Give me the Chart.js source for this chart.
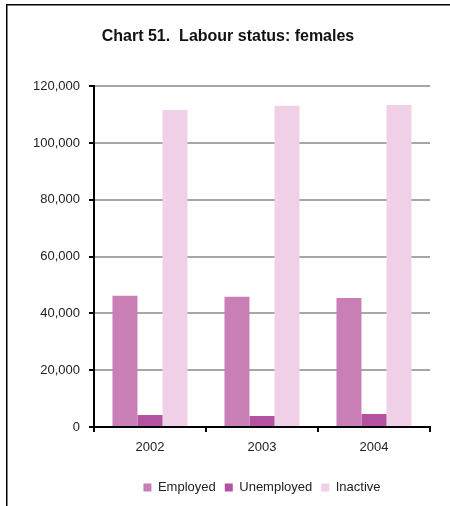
<!DOCTYPE html>
<html>
<head>
<meta charset="utf-8">
<script src="https://cdn.jsdelivr.net/npm/chart.js@4.4.1/dist/chart.umd.min.js"></script>
<style>
  html, body { margin: 0; padding: 0; background: #fff; }
  #wrap { width: 450px; height: 506px; }
</style>
</head>
<body>
<div id="wrap"><canvas id="myChart" width="450" height="506"></canvas></div>
<script>
// Chart data
const years = ['2002', '2003', '2004'];
const employed = [46200, 45900, 45400];
const unemployed = [4200, 3900, 4600];
const inactive = [111600, 113100, 113400];
const yTicks = [0, 20000, 40000, 60000, 80000, 100000, 120000];

const FONT = "'Liberation Sans', Arial, Helvetica, sans-serif";

// Page frame (top and left edges only, the rest is cut off)
const framePlugin = {
    id: 'frame',
    afterDraw(chart) {
        const c = chart.ctx;
        c.save();
        c.fillStyle = '#000';
        c.fillRect(6, 4, 444, 1.5);
        c.fillRect(6, 4, 1.5, 502);
        c.restore();
    }
};

const ctx = document.getElementById('myChart').getContext('2d');
new Chart(ctx, {
    type: 'bar',
    data: {
        labels: years,
        datasets: [
            { label: 'Employed', data: employed, backgroundColor: '#c97fb6' },
            { label: 'Unemployed', data: unemployed, backgroundColor: '#b451a0' },
            { label: 'Inactive', data: inactive, backgroundColor: '#f0d0e6' }
        ]
    },
    options: {
        responsive: false,
        animation: false,
        layout: { padding: { left: 26, right: 20, top: 0, bottom: 2 } },
        datasets: {
            bar: { categoryPercentage: 0.67, barPercentage: 1.0 }
        },
        plugins: {
            title: {
                display: true,
                text: 'Chart 51.  Labour status: females',
                color: '#111',
                font: { family: FONT, size: 16, weight: 'bold' },
                padding: { top: 27, bottom: 40 }
            },
            legend: {
                position: 'bottom',
                fullSize: false,
                labels: {
                    boxWidth: 8,
                    boxHeight: 8,
                    padding: 9,
                    color: '#222',
                    font: { family: FONT, size: 13 }
                }
            },
            tooltip: { enabled: false }
        },
        scales: {
            x: {
                afterFit(scale) { scale.height = 45; },
                border: { color: '#000', width: 2 },
                grid: {
                    offset: true,
                    drawOnChartArea: false,
                    tickColor: '#000',
                    tickLength: 5,
                    lineWidth: 2
                },
                ticks: {
                    color: '#222',
                    padding: 8,
                    font: { family: FONT, size: 13 }
                }
            },
            y: {
                min: 0,
                max: 120000,
                afterFit(scale) { scale.width = 68; },
                afterBuildTicks(scale) { scale.ticks = yTicks.map(v => ({ value: v })); },
                border: { color: '#000', width: 2 },
                grid: {
                    color: '#a6a6a6',
                    tickColor: '#000',
                    lineWidth: 2,
                    tickLength: 5
                },
                ticks: {
                    color: '#222',
                    padding: 9,
                    font: { family: FONT, size: 13 },
                    callback: v => v.toLocaleString('en-US')
                }
            }
        }
    },
    plugins: [framePlugin]
});
</script>
</body>
</html>
